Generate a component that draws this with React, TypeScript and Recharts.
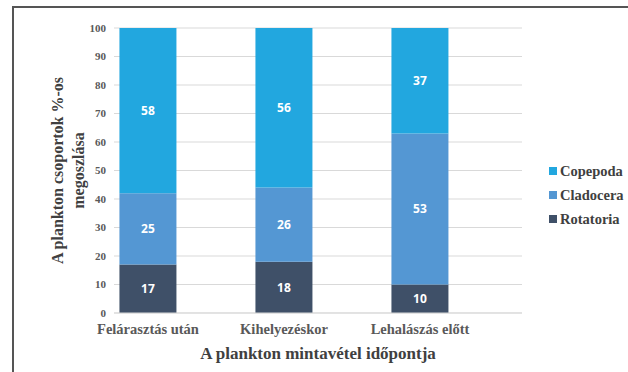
import React from "react"
import { Bar, BarChart, CartesianGrid, LabelList, XAxis, YAxis } from "recharts"

const categories = ["Felárasztás után", "Kihelyezéskor", "Lehalászás előtt"]
const rotatoria = [17, 18, 10]
const cladocera = [25, 26, 53]
const copepoda = [58, 56, 37]
const yTicks = [0, 10, 20, 30, 40, 50, 60, 70, 80, 90, 100]

const series = [
  { key: "rotatoria", name: "Rotatoria", color: "#3F5068" },
  { key: "cladocera", name: "Cladocera", color: "#5497D3" },
  { key: "copepoda", name: "Copepoda", color: "#22A7DF" },
]

const data = categories.map((name, i) => ({
  name,
  rotatoria: rotatoria[i],
  cladocera: cladocera[i],
  copepoda: copepoda[i],
}))

const serif = "Liberation Serif, DejaVu Serif, serif"

function YTitle(props: any) {
  const vb = props.viewBox
  const cy = vb.y + vb.height / 2
  const x = 58
  return (
    <text
      transform={`rotate(-90, ${x}, ${cy})`}
      x={x}
      y={cy}
      textAnchor="middle"
      fontFamily={serif}
      fontWeight="bold"
      fontSize={16}
      fill="#404040"
    >
      <tspan x={x} dy={5}>A plankton csoportok %-os</tspan>
      <tspan x={x} dy={21}>megoszlása</tspan>
    </text>
  )
}

function LegendBox() {
  return (
    <div
      style={{
        position: "absolute",
        left: 549,
        top: 159,
        fontFamily: serif,
        fontWeight: "bold",
        fontSize: 14.5,
        color: "#404040",
      }}
    >
      {[...series].reverse().map((s) => (
        <div key={s.key} style={{ display: "flex", alignItems: "center", height: 24 }}>
          <span style={{ width: 8, height: 8, background: s.color, marginRight: 3, display: "inline-block" }} />
          <span>{s.name}</span>
        </div>
      ))}
    </div>
  )
}

export default function App() {
  return (
    <div style={{ position: "absolute", left: 0, top: 0, width: 628, height: 372, background: "#fff" }}>
      <div
        style={{
          position: "absolute",
          left: 12,
          top: 6,
          right: 0,
          bottom: 0,
          borderTop: "2px solid #555",
          borderLeft: "2px solid #555",
        }}
      />
      <BarChart
        width={628}
        height={372}
        data={data}
        margin={{ top: 28, right: 106, left: 74, bottom: 29 }}
        barCategoryGap="29%"
        style={{ position: "absolute", left: 0, top: 0 }}
      >
        <CartesianGrid vertical={false} stroke="#D9D9D9" />
        <XAxis
          dataKey="name"
          height={30}
          padding={{ left: -34, right: 34 }}
          tickLine={false}
          axisLine={{ stroke: "#D9D9D9" }}
          tick={{ fontFamily: serif, fontWeight: "bold", fontSize: 14.5, fill: "#595959" }}
          tickMargin={5}
          label={{
            value: "A plankton mintavétel időpontja",
            position: "insideBottom",
            offset: -16,
            fontFamily: serif,
            fontWeight: "bold",
            fontSize: 17,
            fill: "#404040",
          }}
        />
        <YAxis
          width={40}
          domain={[0, 100]}
          ticks={yTicks}
          interval={0}
          tickLine={false}
          axisLine={false}
          tickMargin={2}
          tick={{ fontFamily: serif, fontWeight: "bold", fontSize: 11, fill: "#595959" }}
          label={<YTitle />}
        />
        {series.map((s) => (
          <Bar key={s.key} dataKey={s.key} name={s.name} stackId="a" fill={s.color} isAnimationActive={false}>
            <LabelList
              dataKey={s.key}
              position="center"
              fill="#FFFFFF"
              fontFamily="Open Sans, sans-serif"
              fontWeight="bold"
              fontSize={12}
            />
          </Bar>
        ))}
      </BarChart>
      <LegendBox />
    </div>
  )
}
